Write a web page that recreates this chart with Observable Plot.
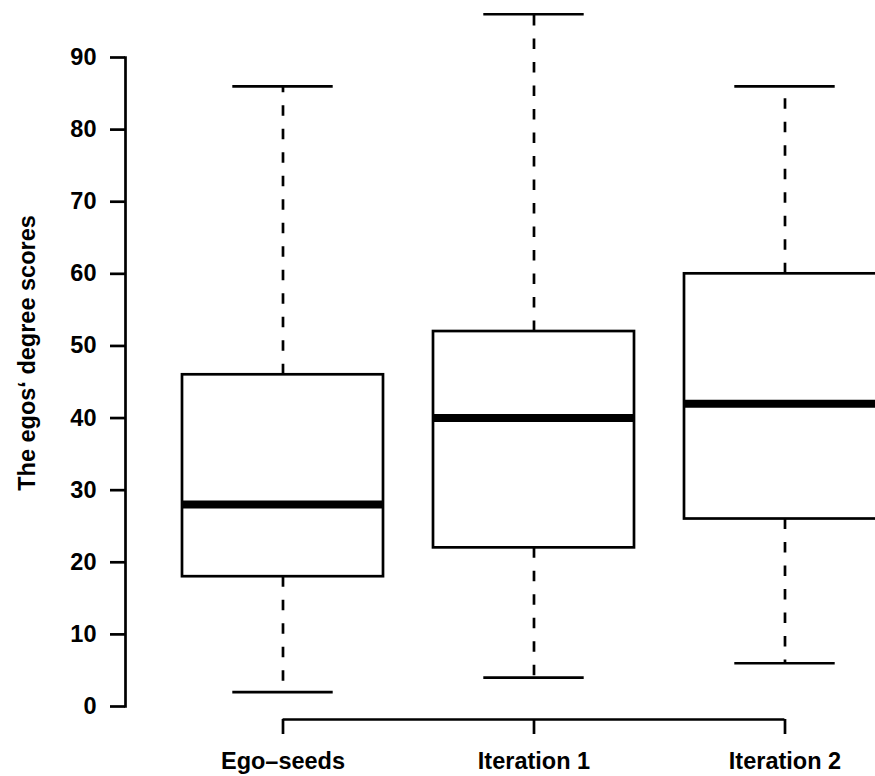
<!DOCTYPE html>
<html>
<head>
<meta charset="utf-8">
<script src="https://cdn.jsdelivr.net/npm/d3@7"></script>
<script src="https://cdn.jsdelivr.net/npm/@observablehq/plot@0.6"></script>
<style>
  html, body { margin: 0; padding: 0; background: white; overflow: hidden; }
  #chart svg { overflow: hidden; }
</style>
</head>
<body>
<div id="chart"></div>
<script>
// ---- data ----
const categories   = ["Ego\u2013seeds", "Iteration 1", "Iteration 2"];
const whiskerLow   = [2, 4, 6];
const quartile1    = [18, 22, 26];
const medians      = [28, 40, 42];
const quartile3    = [46, 52, 60];
const whiskerHigh  = [86, 96, 86];
const yTicks       = [0, 10, 20, 30, 40, 50, 60, 70, 80, 90];
const yLabel       = "The egos\u2018 degree scores";

const rows = categories.map((c, i) => ({
  cat: c, lo: whiskerLow[i], q1: quartile1[i], med: medians[i], q3: quartile3[i], hi: whiskerHigh[i]
}));

// ---- layout ----
const W = 875, H = 776;
const bandStart = 181, bandEnd = 885.2, padInner = 0.2;
const step = (bandEnd - bandStart) / (categories.length - padInner);
const bw = step * (1 - padInner);
const lw = 2.7;
const fs = 23.5;
const font = "'Liberation Sans', Arial, Helvetica, sans-serif";

const chart = Plot.plot({
  width: W,
  height: H,
  marginTop: 57,
  marginBottom: 70,
  marginLeft: 125,
  marginRight: 0,
  style: { fontFamily: font, fontSize: fs + "px", fontWeight: "bold", background: "white", color: "black" },
  x: { type: "band", domain: categories, range: [bandStart, bandEnd], paddingInner: padInner, paddingOuter: 0, align: 0.5 },
  y: { domain: [0, 90] },
  marks: [
    // whiskers
    Plot.ruleX(rows, { x: "cat", y1: "q3", y2: "hi", stroke: "black", strokeWidth: lw, strokeDasharray: "10.5,13" }),
    Plot.ruleX(rows, { x: "cat", y1: "q1", y2: "lo", stroke: "black", strokeWidth: lw, strokeDasharray: "10.5,13" }),
    // staples
    Plot.tickY(rows, { x: "cat", y: "hi", stroke: "black", strokeWidth: lw, insetLeft: bw / 4, insetRight: bw / 4 }),
    Plot.tickY(rows, { x: "cat", y: "lo", stroke: "black", strokeWidth: lw, insetLeft: bw / 4, insetRight: bw / 4 }),
    // boxes
    Plot.barY(rows, { x: "cat", y1: "q1", y2: "q3", fill: "white", stroke: "black", strokeWidth: lw }),
    // medians
    Plot.tickY(rows, { x: "cat", y: "med", stroke: "black", strokeWidth: 8 }),
    // y axis
    Plot.frame({ anchor: "left", stroke: "black", strokeWidth: lw }),
    Plot.axisY(yTicks, { tickSize: 15, tickPadding: 14, strokeWidth: lw, fontSize: fs, fontWeight: "bold", label: null }),
    Plot.text([yLabel], { frameAnchor: "left", textAnchor: "middle", lineAnchor: "middle", rotate: -90, dx: -98, dy: -29, fontSize: fs, fontWeight: "bold", fill: "black" }),
    // x axis
    Plot.ruleY([0], { x1: () => categories[0], x2: () => categories[categories.length - 1], dy: 13, insetLeft: bw / 2, insetRight: bw / 2, stroke: "black", strokeWidth: lw }),
    Plot.axisX({ tickSize: 15, dy: 13, tickPadding: 18, strokeWidth: lw, fontSize: fs, fontWeight: "bold", label: null })
  ]
});
document.getElementById("chart").appendChild(chart);
</script>
</body>
</html>
